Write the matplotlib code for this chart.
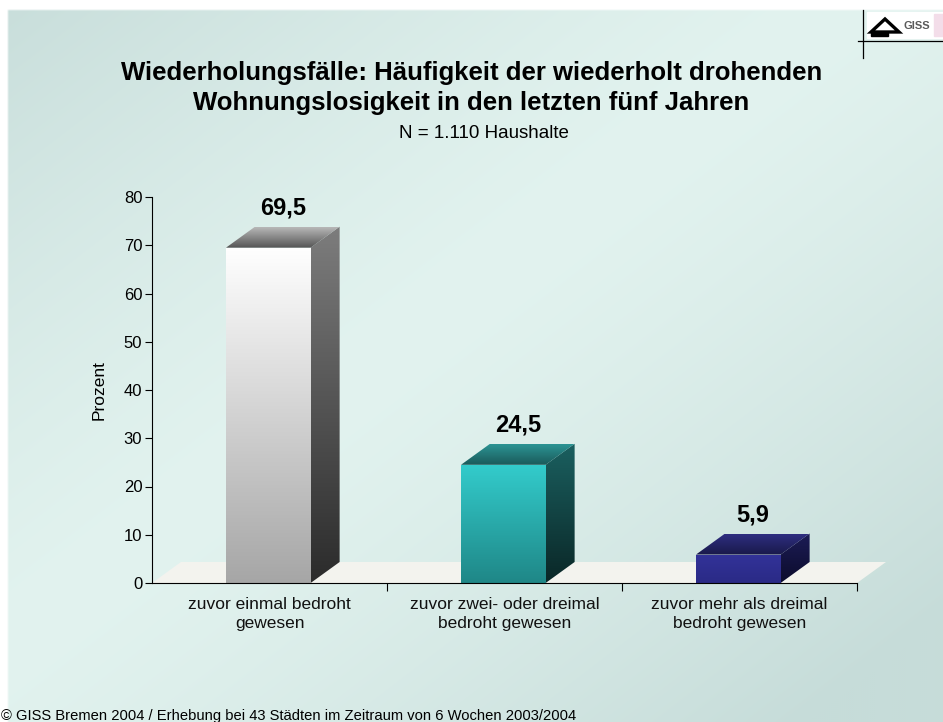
import matplotlib

matplotlib.use("Agg")

import matplotlib.pyplot as plt
import numpy as np
from matplotlib.colors import LinearSegmentedColormap, to_rgb
from matplotlib.patches import Polygon, Rectangle

plt.rcParams["font.family"] = ["Liberation Sans", "DejaVu Sans"]

# Daten
categories = ["zuvor einmal bedroht\ngewesen",
              "zuvor zwei- oder dreimal\nbedroht gewesen",
              "zuvor mehr als dreimal\nbedroht gewesen"]
values = [69.5, 24.5, 5.9]
value_labels = ["69,5", "24,5", "5,9"]

# Farben je Balken: (front oben, front unten), (seite oben, seite unten), (deckel vorne, deckel hinten)
bar_colors = [
    (("#ffffff", "#a6a6a6"), ("#7d7d7d", "#2b2b2b"), ("#545454", "#b8b8b8")),
    (("#33cccc", "#1f8787"), ("#1b6060", "#0a2727"), ("#1a5a5a", "#2c9494")),
    (("#333399", "#2a2a86"), ("#1c1c56", "#0c0c2c"), ("#19194a", "#2e2e80")),
]

W, H = 943, 722
fig = plt.figure(figsize=(W / 100, H / 100), dpi=100)

# Hintergrund mit diagonalem Verlauf
bg = fig.add_axes([0, 0, 1, 1])
bg.set_axis_off()
yy, xx = np.mgrid[0:H:2, 0:W:2]
t = (xx / W + yy / H) / 2.0
f = np.clip(np.abs(t - 0.45) * 2.1, 0, 1) ** 1.3
light = np.array(to_rgb("#e2f3ef"))
dark = np.array(to_rgb("#c6dcd9"))
img = light[None, None, :] * (1 - f[..., None]) + dark[None, None, :] * f[..., None]
img[yy < 9] = 1.0
img[xx < 8] = 1.0
bg.imshow(img, extent=[0, W, H, 0], aspect="auto", interpolation="bilinear")
bg.set_xlim(0, W)
bg.set_ylim(H, 0)

# Logo oben rechts
bg.add_patch(Rectangle((867, 12), 76, 26, color="white", zorder=2))
bg.add_patch(Rectangle((934, 14), 9, 22, color="#f3dde9", zorder=2))
bg.add_patch(Polygon([[871, 32], [885, 19], [899, 32]], closed=True, fill=False,
                     edgecolor="black", linewidth=2.4, zorder=3))
bg.add_patch(Rectangle((871, 32), 17, 4, color="black", zorder=3))
bg.text(903, 26, "GISS", fontsize=8, fontweight="bold", color="#5a5a5a",
        va="center", ha="left", zorder=3)
bg.plot([863, 863], [10, 58], color="black", linewidth=0.9, zorder=3)
bg.plot([858, 943], [41, 41], color="black", linewidth=0.9, zorder=3)

# Titel
fig.text(0.5, 1 - 73 / H, "Wiederholungsfälle: Häufigkeit der wiederholt drohenden",
         ha="center", va="center", fontsize=18.5, fontweight="bold")
fig.text(0.5, 1 - 103 / H, "Wohnungslosigkeit in den letzten fünf Jahren",
         ha="center", va="center", fontsize=18.5, fontweight="bold")
fig.text(0.513, 1 - 133 / H, "N = 1.110 Haushalte", ha="center", va="center", fontsize=13.5)

# Diagrammbereich (Pixelpositionen aus der Vorlage)
left, right, bottom, top = 152, 857, 583, 197
ax = fig.add_axes([left / W, 1 - bottom / H, (right - left) / W, (bottom - top) / H])
ax.patch.set_alpha(0)

ymax = 80
dx = 29 / (right - left) * 3          # Tiefenversatz in Kategorieeinheiten
dy = 21 / (bottom - top) * ymax       # Tiefenversatz in Prozent
width = 0.36


def grad_fill(poly_pts, c_top, c_bottom, y0, y1):
    """Vertikaler Farbverlauf, auf ein Polygon zugeschnitten."""
    poly = Polygon(poly_pts, closed=True, facecolor="none", edgecolor="none")
    ax.add_patch(poly)
    cmap = LinearSegmentedColormap.from_list("g", [c_bottom, c_top])
    xs = [p[0] for p in poly_pts]
    grad = np.linspace(0, 1, 256).reshape(-1, 1)
    im = ax.imshow(grad, extent=[min(xs), max(xs), y0, y1], origin="lower",
                   cmap=cmap, aspect="auto", interpolation="bilinear", zorder=3)
    im.set_clip_path(poly)


# Boden
floor = Polygon([[0, 0], [3, 0], [3 + dx, dy], [dx, dy]], closed=True,
                facecolor="#f3f3ee", edgecolor="none", zorder=1, clip_on=False)
ax.add_patch(floor)

for i, (v, lab, cols) in enumerate(zip(values, value_labels, bar_colors)):
    x0 = i + 0.5 - width / 2 - 0.005
    x1 = x0 + width
    front, side, lid = cols
    grad_fill([[x0, 0], [x1, 0], [x1, v], [x0, v]], front[0], front[1], 0, v)
    grad_fill([[x1, 0], [x1 + dx, dy], [x1 + dx, v + dy], [x1, v]],
              side[0], side[1], 0, v + dy)
    grad_fill([[x0, v], [x1, v], [x1 + dx, v + dy], [x0 + dx, v + dy]],
              lid[1], lid[0], v, v + dy)
    ax.annotate(lab, (x0 + width / 2 + dx / 2, v + dy), xytext=(0, 5),
                textcoords="offset points", ha="center", va="bottom",
                fontsize=17, fontweight="bold", zorder=5)
    ax.text(i + 0.5, -0.035, categories[i], transform=ax.get_xaxis_transform(),
            ha="center", va="top", fontsize=12.5, linespacing=1.36, color="#111111")

ax.set_xlim(0, 3)
ax.set_ylim(0, ymax)
ax.set_yticks(np.arange(0, ymax + 1, 10))
ax.set_xticks([1, 2, 3])
ax.set_xticklabels([])
ax.tick_params(axis="y", direction="out", length=5, labelsize=12, pad=2)
ax.tick_params(axis="x", direction="out", length=6)
for s in ("top", "right"):
    ax.spines[s].set_visible(False)
ax.spines["left"].set_zorder(6)
ax.spines["bottom"].set_zorder(6)
ax.set_ylabel("Prozent", fontsize=12.5)
ax.yaxis.set_label_coords(-0.064, 0.5)

# Fußzeile
fig.text(1 / W, 1 - 716 / H,
         "© GISS Bremen 2004 / Erhebung bei 43 Städten im Zeitraum von 6 Wochen 2003/2004",
         ha="left", va="center", fontsize=10.6)

fig.savefig("out.png", dpi=100)
